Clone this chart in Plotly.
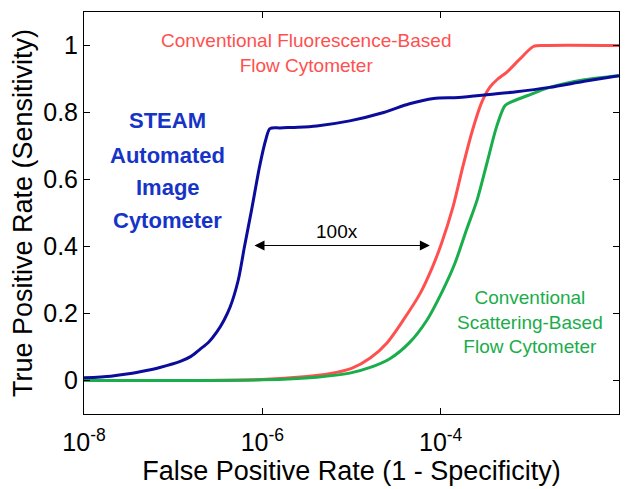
import plotly.graph_objects as go

# ---- data (log10 of false positive rate, true positive rate) ----
steam_log_fpr = [-8.0, -7.7, -7.5, -7.3, -7.15, -6.92, -6.80, -6.70, -6.60, -6.51, -6.43,
                 -6.36, -6.27, -6.20, -6.12, -6.03, -5.96, -5.915, -5.8, -5.6, -5.39, -5.02,
                 -4.64, -4.35, -4.08, -3.8, -3.45, -3.15, -2.78, -2.39, -2.0]
steam_tpr = [0.008, 0.013, 0.02, 0.03, 0.039, 0.057, 0.072, 0.093, 0.115, 0.145, 0.18,
             0.22, 0.30, 0.40, 0.51, 0.64, 0.72, 0.752, 0.754, 0.756, 0.76, 0.775,
             0.80, 0.826, 0.842, 0.845, 0.854, 0.862, 0.875, 0.893, 0.91]

fluor_log_fpr = [-8.0, -7.0, -6.0, -5.5, -5.25, -5.0, -4.79, -4.60, -4.42, -4.23, -4.09,
                 -3.99, -3.86, -3.75, -3.64, -3.54, -3.45, -3.36, -3.26, -3.11, -2.96, -2.84,
                 -2.0]
fluor_tpr = [0.0, 0.0, 0.003, 0.012, 0.02, 0.036, 0.067, 0.113, 0.18, 0.26, 0.34,
             0.41, 0.52, 0.64, 0.75, 0.83, 0.875, 0.90, 0.92, 0.96, 0.997, 1.0,
             1.0]

scatter_log_fpr = [-8.0, -7.0, -6.0, -5.39, -5.02, -4.79, -4.57, -4.35, -4.155, -3.975,
                   -3.84, -3.71, -3.59, -3.48, -3.37, -3.28, -3.22, -3.03, -2.78, -2.39, -2.0]
scatter_tpr = [0.0, 0.0, 0.002, 0.01, 0.022, 0.039, 0.065, 0.113, 0.18, 0.27,
               0.35, 0.45, 0.54, 0.65, 0.76, 0.82, 0.83, 0.85, 0.875, 0.898, 0.91]

x_tick_vals = [1e-8, 1e-6, 1e-4, 1e-2]
x_tick_text = ["10<sup>-8</sup>", "10<sup>-6</sup>", "10<sup>-4</sup>", "10<sup>-2</sup>"]
y_tick_vals = [0, 0.2, 0.4, 0.6, 0.8, 1.0]
y_tick_text = ["0", "0.2", "0.4", "0.6", "0.8", "1"]

RED = "#ff5050"
GREEN = "#1aad4b"
NAVY = "#0c0c9c"
TEXT_BLUE = "#1634c8"

fig = go.Figure()
fig.add_trace(go.Scatter(x=[10 ** v for v in fluor_log_fpr], y=fluor_tpr, mode="lines",
                         line=dict(color=RED, width=3, shape="spline", smoothing=0.8)))
fig.add_trace(go.Scatter(x=[10 ** v for v in scatter_log_fpr], y=scatter_tpr, mode="lines",
                         line=dict(color=GREEN, width=3, shape="spline", smoothing=0.8)))
fig.add_trace(go.Scatter(x=[10 ** v for v in steam_log_fpr], y=steam_tpr, mode="lines",
                         line=dict(color=NAVY, width=3, shape="spline", smoothing=0.8)))

font_family = "Liberation Sans, Arial, sans-serif"

annotations = [
    dict(x=-5.51, y=0.979, text="Conventional Fluorescence-Based<br>Flow Cytometer",
         font=dict(color=RED, size=19)),
    dict(x=-3.0, y=0.176, text="Conventional<br>Scattering-Based<br>Flow Cytometer",
         font=dict(color=GREEN, size=19)),
    dict(x=-5.16, y=0.445, text="100x", font=dict(color="black", size=19)),
]
for txt, yy in zip(["STEAM", "Automated", "Image", "Cytometer"], [0.775, 0.672, 0.575, 0.478]):
    annotations.append(dict(x=-7.06, y=yy, text="<b>%s</b>" % txt,
                            font=dict(color=TEXT_BLUE, size=22)))
for a in annotations:
    a.update(xref="x", yref="y", showarrow=False, xanchor="center", yanchor="middle")

arrow = dict(x=-4.121, y=0.403, ax=-6.105, ay=0.403, xref="x", yref="y", axref="x", ayref="y",
             text="", showarrow=True, arrowhead=2, startarrowhead=2, arrowside="end+start",
             arrowsize=2, startarrowsize=2, arrowwidth=1, arrowcolor="black",
             standoff=0, startstandoff=0)
annotations.append(arrow)

# the page body has an 8px default margin, so the figure is sized to fit inside the window
fig.update_layout(
    width=629, height=481,
    margin=dict(l=76, r=18, t=4, b=75),
    paper_bgcolor="white", plot_bgcolor="white",
    showlegend=False,
    font=dict(family=font_family, color="black"),
    annotations=annotations,
    xaxis=dict(type="log", range=[-8, -2], tickvals=x_tick_vals, ticktext=x_tick_text,
               ticks="inside", ticklen=6, tickcolor="black", showline=True, linecolor="black",
               linewidth=1, mirror="ticks", showgrid=False, zeroline=False, automargin=False,
               tickfont=dict(size=25), ticklabelstandoff=6,
               title=dict(text="False Positive Rate (1 - Specificity)", font=dict(size=27),
                          standoff=6)),
    yaxis=dict(range=[-0.1, 1.1], tickvals=y_tick_vals, ticktext=y_tick_text,
               ticks="inside", ticklen=6, tickcolor="black", showline=True, linecolor="black",
               linewidth=1, mirror="ticks", showgrid=False, zeroline=False, automargin=False,
               tickfont=dict(size=25),
               title=dict(text="True Positive Rate (Sensitivity)", font=dict(size=27),
                          standoff=4)),
)

fig.write_html("out.html")
